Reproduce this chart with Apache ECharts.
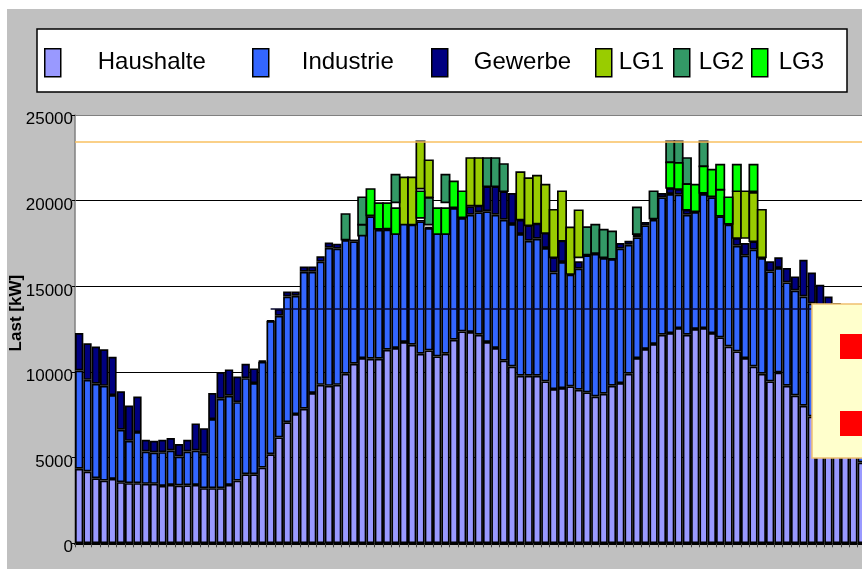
<!DOCTYPE html>
<html><head><meta charset="utf-8">
<script src="https://cdn.jsdelivr.net/npm/echarts@6/dist/echarts.min.js"></script>
<style>
html,body{margin:0;padding:0;background:#fff;width:862px;height:569px;overflow:hidden;}
#c{position:absolute;left:7px;top:9px;width:855px;height:560px;}
</style></head><body><div id="c"></div>
<script>
// 96 quarter hours
const categories = [];
for (let i = 1; i <= 96; i++) { const m = i * 15; categories.push(String(Math.floor(m / 60) % 24).padStart(2, '0') + ':' + String(m % 60).padStart(2, '0')); }

const haushalte = [4350,4190,3800,3660,3760,3570,3510,3510,3470,3470,3350,3410,3370,3390,3410,3220,
  3220,3220,3410,3660,4030,4030,4420,5200,6180,7070,7540,7850,8770,9250,9190,9250,
  9900,10480,10810,10770,10770,11300,11400,11750,11590,11060,11260,10910,11060,11880,12370,12330,
  12170,11750,11400,10660,10320,9780,9780,9780,9450,9000,9060,9160,8960,8810,8570,8730,
  9200,9350,9900,10810,11340,11630,12170,12270,12560,12170,12510,12560,12270,12020,11490,11200,
  10810,10320,9900,9450,9970,9200,8630,8030,7400,6900,6400,5900,5500,5200,4720,4500];
const industrie = [5740,5350,5510,5530,4890,3060,2470,2980,1890,1830,1970,2010,1700,1970,2010,2000,
  4030,5220,5200,4580,5610,5320,6180,7770,7100,7340,6910,8000,7080,7190,8060,7950,
  7800,7150,8180,8320,7530,7010,6750,7530,7010,7730,7140,7400,7250,7690,6620,6850,
  7150,7630,7780,8230,8320,8270,7880,8000,7790,6810,7360,6520,7070,8000,8330,7920,
  7390,7850,7530,7050,7220,7260,8030,8120,7790,7010,6830,7830,7930,7070,7110,6170,
  5980,6820,6750,6420,6100,6030,6130,6380,6600,6600,6600,6700,6700,6600,6680,6500];
const gewerbe = [2180,2140,2180,2140,2240,2240,2060,2080,680,680,720,720,720,680,1580,1500,
  1520,1560,1540,1500,840,860,60,40,390,290,250,310,310,310,310,290,
  310,100,110,60,40,40,50,50,40,50,50,40,40,50,40,490,
  390,1460,1660,1660,1810,840,900,880,880,880,1250,40,430,30,40,40,
  20,330,230,200,200,60,250,350,330,290,40,60,60,40,40,450,
  740,490,40,590,620,840,820,2140,1810,1590,1410,1420,1400,1400,1400,1400];
// LG boxes: [quarter-hour index, from kW, to kW]
const lg1 = [[39,18600,21360],[40,18600,21360],[41,20700,23460],[42,20200,22360],[47,19710,22490],[48,19710,22490],
  [53,18890,21670],[54,18560,21320],[55,18660,21460],[56,18110,20940],[57,16690,19470],[58,17660,20550],
  [59,15720,18440],[60,16690,19440],[79,17820,20550],[80,17820,20550],[81,17630,20450],[82,16690,19470]];
const lg2 = [[32,17720,19220],[34,17960,18600],[34,18600,20200],[38,19900,21520],[42,18600,20160],[44,19900,21520],
  [49,20840,22490],[50,20840,22490],[51,20550,22140],[61,16850,18460],[62,16940,18600],[63,16690,18310],
  [64,16610,18210],[67,18050,19610],[69,18950,20550],[71,22240,23460],[72,22200,23460],[73,20970,22490],[75,22000,23460]];
const lg3 = [[35,19140,20680],[36,18350,19860],[37,18370,19860],[38,18050,19570],[41,18990,20550],[43,18050,19570],
  [44,18050,19570],[45,19610,21130],[46,19030,20550],[71,20740,22240],[72,20680,22200],[73,19470,20970],
  [74,19380,20940],[75,20450,22000],[76,20250,21810],[77,19120,20640],[77,20640,22100],[78,18640,20200],
  [79,20550,22100],[81,20550,22100]];
const yTicks = [0, 5000, 10000, 15000, 20000, 25000];
const grenzeOben = 23460;
const grenzeMitte = 13670;
const grenzeMitteStart = 23;

const FONT = '"Liberation Sans", Arial, sans-serif';
const names = ['Haushalte', 'Industrie', 'Gewerbe', 'LG1', 'LG2', 'LG3'];
const colors = ['#9999ff', '#3366ff', '#000080', '#99cc00', '#339966', '#00ff00'];
const iconLeft = [37, 245, 424, 588, 666, 744];
const textPad = [32, 28, 21, 2, 4, 6];

const chart = echarts.init(document.getElementById('c'), null, { renderer: 'canvas' });

function boxRender(params, api) {
  const idx = api.value(0);
  const p0 = api.coord([idx, api.value(1)]);
  const p1 = api.coord([idx, api.value(2)]);
  const w = api.size([1, 0])[0];
  return {
    type: 'rect',
    shape: { x: p0[0] - w / 2, y: p1[1], width: w, height: p0[1] - p1[1] },
    style: { fill: api.visual('color'), stroke: '#000', lineWidth: 1.7 }
  };
}
function barSeries(name, data, color) {
  return { name, type: 'bar', stack: 'last', data, barCategoryGap: '0%',
    itemStyle: { color, borderColor: '#000', borderWidth: 1.7 }, z: 2 };
}
function boxSeries(name, data, color) {
  return { name, type: 'custom', data, renderItem: boxRender, encode: { x: 0, y: [1, 2] },
    itemStyle: { color, borderColor: '#000', borderWidth: 1.5 }, clip: true, z: 3 };
}

const option = {
  animation: false,
  backgroundColor: '#c0c0c0',
  textStyle: { fontFamily: FONT },
  legend: names.map((n, i) => ({
    data: [n], left: iconLeft[i], top: 39, padding: 0, itemWidth: 16, itemHeight: 28, itemGap: 0,
    icon: 'rect', selectedMode: false,
    itemStyle: { borderColor: '#000', borderWidth: 1.5 },
    textStyle: { fontSize: 24, fontFamily: FONT, color: '#000', padding: [0, 0, 6, textPad[i]] }
  })),
  grid: { left: 68, top: 106, width: 799.2, height: 428.3, show: true, backgroundColor: '#fff', borderWidth: 0,
    containLabel: false, outerBoundsMode: 'none' },
  xAxis: {
    type: 'category', data: categories, boundaryGap: true,
    axisLine: { lineStyle: { color: '#000', width: 2 } },
    axisTick: { show: true, interval: 0, length: 4, lineStyle: { color: '#444', width: 1 } },
    axisLabel: { show: false }
  },
  yAxis: {
    type: 'value', min: yTicks[0], max: yTicks[yTicks.length - 1], interval: yTicks[1] - yTicks[0],
    name: 'Last [kW]', nameLocation: 'middle', nameGap: 50, nameRotate: 90, nameMoveOverlap: false,
    nameTextStyle: { fontSize: 17, fontWeight: 'bold', color: '#000', fontFamily: FONT, padding: [0, 0, 0, 32] },
    axisLine: { show: true, lineStyle: { color: '#808080', width: 1.5 } },
    axisTick: { show: true, length: 3, lineStyle: { color: '#000' } },
    axisLabel: { color: '#000', margin: 2, fontFamily: FONT,
      formatter: v => '{n|' + v + '}',
      rich: { n: { fontSize: 17, color: '#000', fontFamily: FONT, padding: [9, 0, 0, 0] } } },
    splitLine: { show: true, lineStyle: { color: ['#000', '#000', '#000', '#000', '#000', '#808080'], width: 1 } }
  },
  series: [
    barSeries('Haushalte', haushalte, colors[0]),
    barSeries('Industrie', industrie, colors[1]),
    barSeries('Gewerbe', gewerbe, colors[2]),
    boxSeries('LG1', lg1, colors[3]),
    boxSeries('LG2', lg2, colors[4]),
    boxSeries('LG3', lg3, colors[5]),
    { type: 'line', data: [], z: 10, silent: true,
      markLine: { symbol: 'none', silent: true, label: { show: false }, animation: false,
        data: [
          { yAxis: grenzeOben, lineStyle: { color: '#f8c060', width: 1.5, type: 'solid' } },
          [ { coord: [categories[grenzeMitteStart], grenzeMitte], lineStyle: { color: '#0a0a30', width: 1.5, type: 'solid' } },
            { coord: [categories[categories.length - 1], grenzeMitte] } ]
        ] } }
  ],
  graphic: [
    { type: 'rect', shape: { x: 30, y: 20, width: 810, height: 63 }, style: { fill: '#fff', stroke: '#000', lineWidth: 1.5 }, z: 0 },
    { type: 'rect', shape: { x: 805, y: 295, width: 70, height: 154 }, style: { fill: '#ffffcc', stroke: '#f0c070', lineWidth: 1.5 }, z: 100 },
    { type: 'rect', shape: { x: 833, y: 325, width: 40, height: 25 }, style: { fill: '#ff0000' }, z: 101 },
    { type: 'rect', shape: { x: 833, y: 402, width: 40, height: 25 }, style: { fill: '#ff0000' }, z: 101 }
  ]
};
chart.setOption(option);
</script></body></html>
